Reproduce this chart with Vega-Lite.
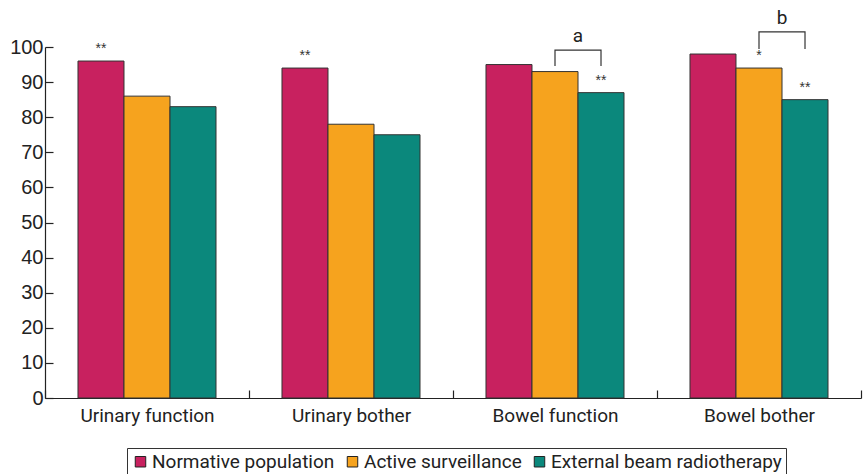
{
  "$schema": "https://vega.github.io/schema/vega-lite/v6.json",
  "width": 816,
  "height": 351,
  "autosize": "none",
  "padding": {"left": 45, "top": 47, "right": 6, "bottom": 76},
  "config": {
    "view": {"stroke": null},
    "font": "Liberation Sans",
    "axis": {"grid": false, "domainColor": "#222", "tickColor": "#222", "labelColor": "#222", "domainWidth": 1.2, "tickWidth": 1.2}
  },
  "datasets": {
    "bars": [
      {"category": "Urinary function", "group": "Normative population", "value": 96},
      {"category": "Urinary function", "group": "Active surveillance", "value": 86},
      {"category": "Urinary function", "group": "External beam radiotherapy", "value": 83},
      {"category": "Urinary bother", "group": "Normative population", "value": 94},
      {"category": "Urinary bother", "group": "Active surveillance", "value": 78},
      {"category": "Urinary bother", "group": "External beam radiotherapy", "value": 75},
      {"category": "Bowel function", "group": "Normative population", "value": 95},
      {"category": "Bowel function", "group": "Active surveillance", "value": 93},
      {"category": "Bowel function", "group": "External beam radiotherapy", "value": 87},
      {"category": "Bowel bother", "group": "Normative population", "value": 98},
      {"category": "Bowel bother", "group": "Active surveillance", "value": 94},
      {"category": "Bowel bother", "group": "External beam radiotherapy", "value": 85}
    ],
    "stars": [
      {"category": "Urinary function", "group": "Normative population", "value": 96, "label": "**"},
      {"category": "Urinary bother", "group": "Normative population", "value": 94, "label": "**"},
      {"category": "Bowel function", "group": "External beam radiotherapy", "value": 87, "label": "**"},
      {"category": "Bowel bother", "group": "Active surveillance", "value": 94, "label": "*"},
      {"category": "Bowel bother", "group": "External beam radiotherapy", "value": 85, "label": "**"}
    ],
    "brackets": [
      {"id": "a", "ord": 1, "category": "Bowel function", "group": "Active surveillance", "value": 94.6},
      {"id": "a", "ord": 2, "category": "Bowel function", "group": "Active surveillance", "value": 99.1},
      {"id": "a", "ord": 3, "category": "Bowel function", "group": "External beam radiotherapy", "value": 99.1},
      {"id": "a", "ord": 4, "category": "Bowel function", "group": "External beam radiotherapy", "value": 94.6},
      {"id": "b", "ord": 1, "category": "Bowel bother", "group": "Active surveillance", "value": 99.4},
      {"id": "b", "ord": 2, "category": "Bowel bother", "group": "Active surveillance", "value": 104.3},
      {"id": "b", "ord": 3, "category": "Bowel bother", "group": "External beam radiotherapy", "value": 104.3},
      {"id": "b", "ord": 4, "category": "Bowel bother", "group": "External beam radiotherapy", "value": 99.4}
    ],
    "letters": [
      {"category": "Bowel function", "group": "Active surveillance", "value": 100.2, "label": "a"},
      {"category": "Bowel bother", "group": "Active surveillance", "value": 105.4, "label": "b"}
    ]
  },
  "encoding": {
    "x": {
      "field": "category", "type": "nominal",
      "scale": {"domain": ["Urinary function", "Urinary bother", "Bowel function", "Bowel bother"], "paddingInner": 0, "paddingOuter": 0},
      "axis": {
        "title": null, "labelAngle": 0, "labelFontSize": 19, "labelFont": "Roboto", "tickBand": "extent", "tickSize": -8, "labelPadding": 16, "labelColor": "#222",
        "encode": {"ticks": {"update": {"opacity": {"signal": "datum.extra ? 0 : 1"}}}}
      }
    },
    "xOffset": {
      "field": "group", "type": "nominal",
      "scale": {"domain": ["Normative population", "Active surveillance", "External beam radiotherapy"], "paddingInner": 0, "paddingOuter": 0.717}
    },
    "y": {
      "field": "value", "type": "quantitative",
      "scale": {"domain": [0, 100], "nice": false},
      "axis": {"title": null, "values": [0, 10, 20, 30, 40, 50, 60, 70, 80, 90, 100], "labelOverlap": false, "labelBound": false, "tickSize": -8, "labelFontSize": 20, "labelPadding": 10}
    }
  },
  "layer": [
    {
      "data": {"name": "bars"},
      "mark": {"type": "bar", "stroke": "#333", "strokeWidth": 1},
      "encoding": {
        "color": {
          "field": "group", "type": "nominal",
          "scale": {"domain": ["Normative population", "Active surveillance", "External beam radiotherapy"], "range": ["#C8215F", "#F6A31E", "#0B887C"]},
          "legend": {
            "title": null, "orient": "none", "legendX": 82, "legendY": 401, "direction": "horizontal",
            "strokeColor": "#333", "padding": 4, "symbolType": "square", "symbolSize": 110,
            "symbolStrokeColor": "#222", "symbolStrokeWidth": 1, "labelFontSize": 19, "labelFont": "Roboto",
            "labelColor": "#222", "columnPadding": 8, "labelOffset": 2, "labelLimit": 400
          }
        }
      }
    },
    {
      "data": {"name": "stars"},
      "mark": {"type": "text", "baseline": "bottom", "dy": -5, "fontSize": 14, "color": "#333"},
      "encoding": {
        "text": {"field": "label"}
      }
    },
    {
      "data": {"name": "brackets"},
      "mark": {"type": "line", "color": "#333", "strokeWidth": 1.2},
      "encoding": {
        "detail": {"field": "id"},
        "order": {"field": "ord", "type": "quantitative"}
      }
    },
    {
      "data": {"name": "letters"},
      "mark": {"type": "text", "baseline": "bottom", "dx": 23, "fontSize": 19, "font": "Roboto", "color": "#222"},
      "encoding": {
        "text": {"field": "label"}
      }
    }
  ]
}
